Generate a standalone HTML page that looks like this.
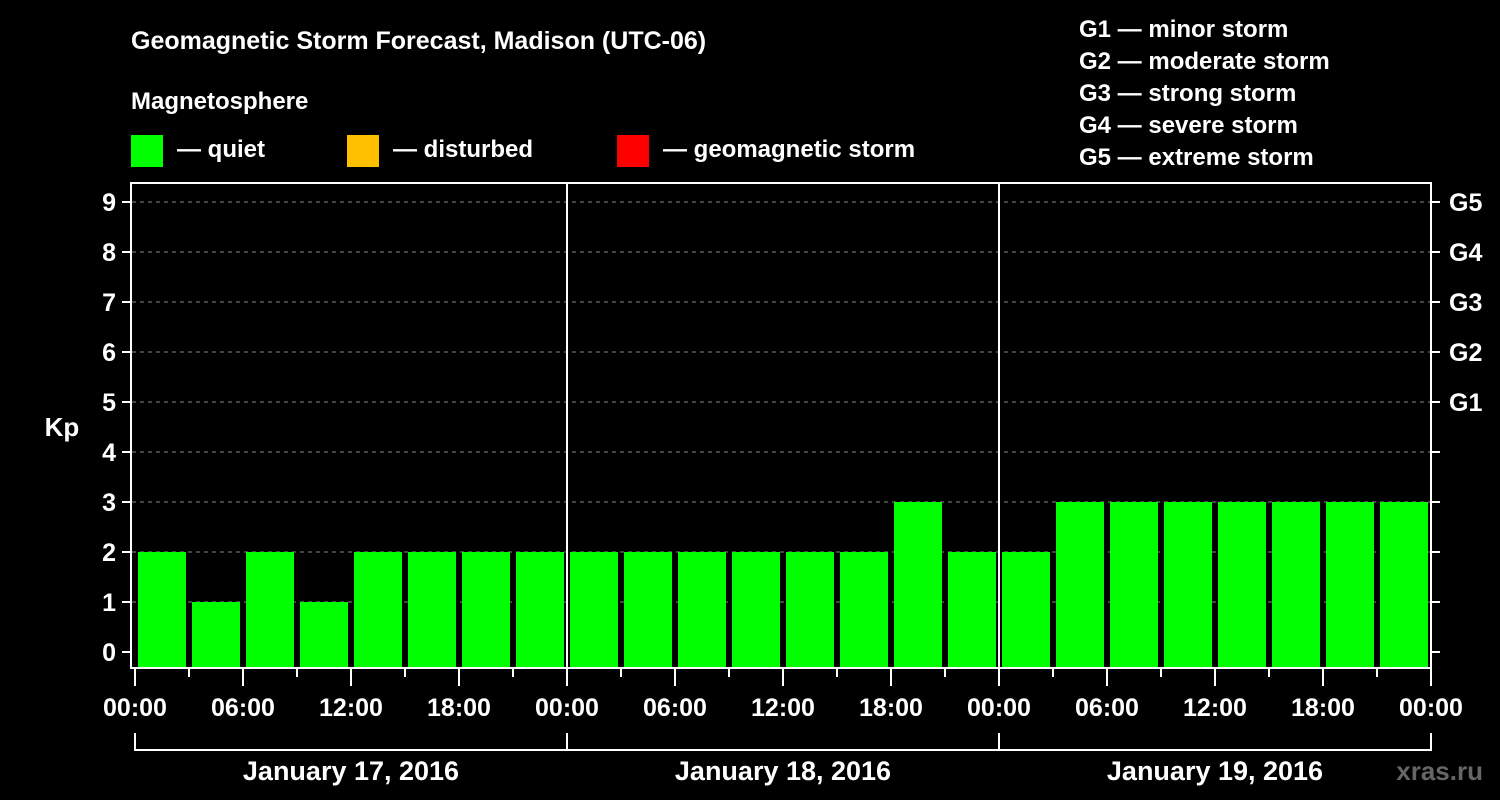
<!DOCTYPE html>
<html><head><meta charset="utf-8"><style>
html,body{margin:0;padding:0;background:#000;}
svg{display:block;font-family:"Liberation Sans",Arial,sans-serif;font-weight:bold;}
</style></head><body>
<svg id="chart" width="1500" height="800" viewBox="0 0 1500 800">
<rect width="1500" height="800" fill="#000"/>
<text x="131" y="49" fill="#fff" font-size="25">Geomagnetic Storm Forecast, Madison (UTC-06)</text>
<text x="131" y="109" fill="#fff" font-size="24">Magnetosphere</text>
<g><rect x="131" y="135" width="32" height="32" fill="#00ff00"/><text x="177" y="157" fill="#fff" font-size="24">— quiet</text></g>
<g><rect x="347" y="135" width="32" height="32" fill="#ffc000"/><text x="393" y="157" fill="#fff" font-size="24">— disturbed</text></g>
<g><rect x="617" y="135" width="32" height="32" fill="#ff0000"/><text x="663" y="157" fill="#fff" font-size="24">— geomagnetic storm</text></g>
<g fill="#fff" font-size="24">
<text x="1079" y="37">G1 — minor storm</text>
<text x="1079" y="69">G2 — moderate storm</text>
<text x="1079" y="101">G3 — strong storm</text>
<text x="1079" y="133">G4 — severe storm</text>
<text x="1079" y="165">G5 — extreme storm</text>
</g>
<text x="62" y="436" fill="#fff" font-size="26" text-anchor="middle">Kp</text>
<text x="1483" y="780" fill="#666" font-size="26" text-anchor="end">xras.ru</text>
<g id="plot"></g>
</svg>
<script>
const kpValues = [2,1,2,1,2,2,2,2, 2,2,2,2,2,2,3,2, 2,3,3,3,3,3,3,3];
const dayLabels = ["January 17, 2016","January 18, 2016","January 19, 2016"];
const hourLabels = ["00:00","06:00","12:00","18:00"];
const kpTicks = [0,1,2,3,4,5,6,7,8,9];
const gLabels = ["G1","G2","G3","G4","G5"];

const X0=135, X1=1431, TOP=183, BOT=668;
const slotW=(X1-X0)/kpValues.length;
const xAt=i=>X0+i*slotW;
const yAt=v=>652-v*50;
const NS="http://www.w3.org/2000/svg";
const g=document.getElementById('plot');
function mk(tag,attrs,parent){const e=document.createElementNS(NS,tag);for(const k in attrs)e.setAttribute(k,attrs[k]);(parent||g).appendChild(e);return e;}
function color(v){return v>=5?"#ff0000":v>=4?"#ffc000":"#00ff00";}

kpTicks.forEach(v=>{
  if(v>0){const l=mk('line',{x1:X0-3,x2:X1,y1:yAt(v),y2:yAt(v),stroke:'#888','stroke-dasharray':'4,4','stroke-width':1});
  
  }
  const t=mk('line',{x1:122,x2:131,y1:yAt(v),y2:yAt(v),stroke:'#fff','stroke-width':2});
  
  
  const rt=mk('line',{x1:X1,x2:X1+9,y1:yAt(v),y2:yAt(v),stroke:'#fff','stroke-width':2});
  
  
  const tx=mk('text',{x:116,y:yAt(v)+9,fill:'#fff','font-size':25,'text-anchor':'end'});
  tx.textContent=v;
  
  
});
gLabels.forEach((s,i)=>{
  const tx=mk('text',{x:1449,y:yAt(i+5)+9,fill:'#fff','font-size':25});
  tx.textContent=s;
  
  
});
kpValues.forEach((v,i)=>{
  const r=mk('rect',{x:xAt(i)+3,y:yAt(v),width:slotW-6,height:BOT-yAt(v),fill:color(v)});
  
  
});
const frame=mk('rect',{x:131,y:TOP,width:X1-131,height:BOT-TOP,fill:'none',stroke:'#fff','stroke-width':2});


for(let d=1;d<dayLabels.length;d++){
  const l=mk('line',{x1:xAt(d*8),x2:xAt(d*8),y1:TOP,y2:BOT,stroke:'#fff','stroke-width':2});
  
  
}
for(let i=0;i<=kpValues.length;i++){
  const major=i%2===0;
  const l=mk('line',{x1:xAt(i),x2:xAt(i),y1:BOT,y2:major?686:677,stroke:'#fff','stroke-width':2});
  
  
  if(major){
    const tx=mk('text',{x:xAt(i),y:716,fill:'#fff','font-size':25,'text-anchor':'middle'});
    tx.textContent=hourLabels[(i/2)%4];
    
    
  }
}
mk('path',{d:`M${X0},733V750H${X1}V733`,fill:'none',stroke:'#fff','stroke-width':2});
dayLabels.forEach((s,d)=>{
  const l=mk('line',{x1:xAt(d*8),x2:xAt(d*8),y1:733,y2:750,stroke:'#fff','stroke-width':2});
  
  
  const tx=mk('text',{x:(xAt(d*8)+xAt(d*8+8))/2,y:780,fill:'#fff','font-size':27,'text-anchor':'middle'});
  tx.textContent=s;
  
  
});
</script>
</body></html>
